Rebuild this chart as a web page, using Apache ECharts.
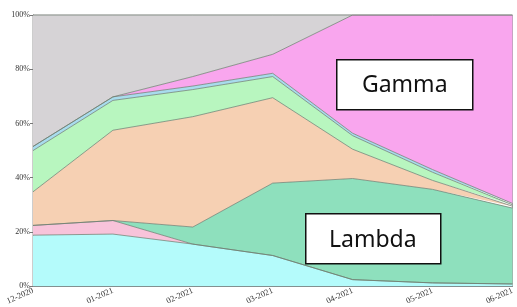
<!DOCTYPE html>
<html><head><meta charset="utf-8">
<script src="https://cdn.jsdelivr.net/npm/echarts@6/dist/echarts.min.js"></script>
<style>html,body{margin:0;padding:0;background:#fff}#c{width:517px;height:307px}</style>
</head><body><div id="c"></div>
<script>
const months = ['12-2020','01-2021','02-2021','03-2021','04-2021','05-2021','06-2021'];
const yTicks = [0,20,40,60,80,100];
const cyanVals   = [18.8, 19.2, 15.5, 11.3, 2.4, 1.2, 0.8];
const pinkVals   = [3.6, 5.0, 0, 0, 0, 0, 0];
const lambdaVals = [0, 0, 6.3, 26.7, 37.3, 34.5, 28.0];
const peachVals  = [12.4, 33.3, 40.7, 31.5, 10.8, 3.3, 0.7];
const greenVals  = [15.2, 11.0, 10.0, 7.8, 5.0, 3.0, 0.5];
const blueVals   = [1.5, 1.3, 1.3, 1.2, 0.9, 1.0, 0.5];
const gammaVals  = [0, 0, 3.5, 7.0, 43.6, 57.0, 69.5];
const grayVals   = [48.5, 30.2, 22.7, 14.5, 0, 0, 0];
const titleText = 'Shifting variant proportions, Peru 2020–21 lineage';

const layers = [
  {name:'Other A', data:cyanVals,   color:'#b4fbfb'},
  {name:'Other B', data:pinkVals,   color:'#f8c3da'},
  {name:'Lambda',  data:lambdaVals, color:'#8ee0bd'},
  {name:'Other C', data:peachVals,  color:'#f6d0b3'},
  {name:'Other D', data:greenVals,  color:'#b8f6bf'},
  {name:'Other E', data:blueVals,   color:'#a8dced'},
  {name:'Gamma',   data:gammaVals,  color:'#f9a6ee'},
  {name:'Other F', data:grayVals,   color:'#d6d3d6'}
];

const chart = echarts.init(document.getElementById('c'));
chart.setOption({
  animation:false,
  title:{text:titleText,left:'center',top:-23,textStyle:{fontFamily:'Noto Sans',fontSize:18,fontWeight:'normal',color:'#111'}},
  grid:{left:33,right:-2,top:15,bottom:17,show:true,borderColor:'#9a9a9a',borderWidth:1,backgroundColor:'transparent'},
  xAxis:{type:'category',data:months,boundaryGap:false,
    axisLine:{lineStyle:{color:'#777'}},axisTick:{show:false},
    axisLabel:{rotate:24,fontFamily:'Liberation Serif',fontSize:8.5,color:'#333',margin:4,interval:0}},
  yAxis:{type:'value',min:0,max:100,interval:20,
    axisLine:{show:true,lineStyle:{color:'#777'}},axisTick:{show:true,length:3,lineStyle:{color:'#777'}},
    splitLine:{show:false},
    axisLabel:{formatter:v=>yTicks.includes(v)?v+'%':'',fontFamily:'Liberation Serif',fontSize:8,color:'#333',margin:3}},
  series:layers.map(l=>({
    name:l.name,type:'line',stack:'total',data:l.data,symbol:'none',
    lineStyle:{color:'#6f7f72',width:1,opacity:0.75},
    areaStyle:{color:l.color,opacity:1},
    itemStyle:{color:l.color}
  })),
  graphic:[
    {type:'group',left:336,top:59,z:100,children:[
      {type:'rect',z:100,shape:{x:0,y:0,width:136,height:50},style:{fill:'#fff',stroke:'#111',lineWidth:1.5}},
      {type:'text',z:101,x:68,y:26,style:{text:'Gamma',fontFamily:'Noto Sans',fontSize:23,fill:'#111',align:'center',verticalAlign:'middle'}}
    ]},
    {type:'group',left:305,top:213,z:100,children:[
      {type:'rect',z:100,shape:{x:0,y:0,width:135,height:50},style:{fill:'#fff',stroke:'#111',lineWidth:1.5}},
      {type:'text',z:101,x:67,y:27,style:{text:'Lambda',fontFamily:'Noto Sans',fontSize:23,fill:'#111',align:'center',verticalAlign:'middle'}}
    ]}
  ]
});
</script></body></html>
